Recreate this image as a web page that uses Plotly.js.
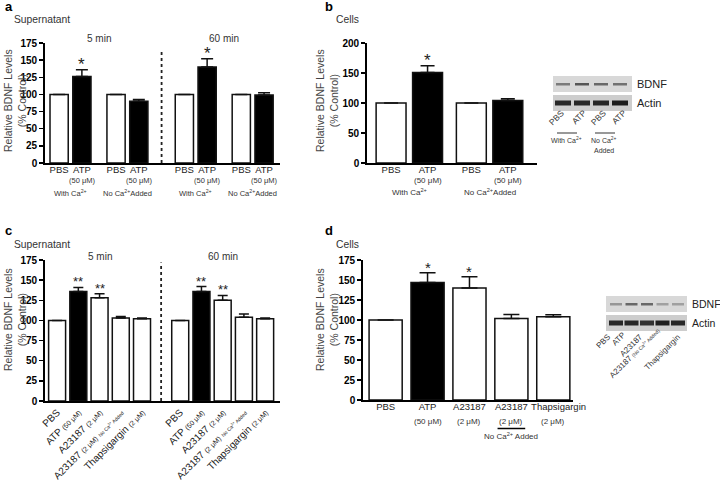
<!DOCTYPE html>
<html>
<head>
<meta charset="utf-8">
<script src="https://cdn.plot.ly/plotly-3.0.1.min.js"></script>
<style>html,body{margin:0;padding:0;background:#fff}</style>
</head>
<body>
<div id="fig" style="width:720px;height:481px"></div>
<script>
// ---- data ----
// panel a: supernatant, 5 min | 60 min
const aLabels = ["PBS", "ATP", "PBS", "ATP", "PBS", "ATP", "PBS", "ATP"];
const aValues = [100, 126, 100, 90, 100, 140, 100, 99];
const aErrors = [0, 10, 0, 2.5, 0, 12, 0, 3.5];
const aFilled = [false, true, false, true, false, true, false, true];
const aStars = ["", "*", "", "", "", "*", "", ""];

// panel b: cells
const bLabels = ["PBS", "ATP", "PBS", "ATP"];
const bValues = [100, 151, 100, 104];
const bErrors = [0, 11, 0, 3];
const bFilled = [false, true, false, true];
const bStars = ["", "*", "", ""];

// panel c: supernatant, 5 min | 60 min
const cLabels = ["PBS", "ATP", "A23187", "A23187", "Thapsigargin"];
const cDoses = ["", "(50 μM)", "(2 μM)", "(2 μM)", "(2 μM)"];
const cNotes = ["", "", "", "No Ca<sup>2+</sup> Added", ""];
const cValues5 = [100, 136, 128, 103, 102];
const cErrors5 = [0, 5, 5, 2, 1];
const cValues60 = [100, 136, 125, 104, 102];
const cErrors60 = [0, 6, 6, 4, 1];
const cFilled = [false, true, false, false, false];
const cStars = ["", "**", "**", "", ""];

// panel d: cells
const dLabels = ["PBS", "ATP", "A23187", "A23187", "Thapsigargin"];
const dDoses = ["", "(50 μM)", "(2 μM)", "(2 μM)", "(2 μM)"];
const dValues = [100, 147, 140, 102, 104];
const dErrors = [0, 12, 14, 5, 2.5];
const dFilled = [false, true, false, false, false];
const dStars = ["", "*", "*", "", ""];

// western blots: relative band darkness per lane
const bBlotLanes = ["PBS", "ATP", "PBS", "ATP"];
const bBdnf = [0.5, 0.7, 0.6, 0.55];
const bActin = [0.95, 0.95, 0.95, 1.0];
const dBlotLanes = ["PBS", "ATP", "A23187", "A23187 <span style='font-size:5px'>(No Ca<sup>2+</sup> Added)</span>", "Thapsigargin"];
const dBdnf = [0.35, 0.6, 0.6, 0.3, 0.3];
const dActin = [0.95, 0.95, 0.9, 1.0, 0.95];

// ---- helpers ----
const FONT = "Arial, 'Liberation Sans', sans-serif";
const W = 720, H = 481;
const px = x => x / W;
const py = y => 1 - y / H;

// slot positions: groups of bars with extra space between groups
function place(sizes, gaps) {
  let out = [], pos = 0;
  sizes.forEach((n, g) => {
    for (let i = 0; i < n; i++) out.push(pos++);
    pos += gaps[g] || 0;
  });
  return out;
}

function bars(ax, slots, values, errors, filled, width, cap) {
  return {
    type: "bar", x: slots, y: values, width: width,
    xaxis: "x" + ax, yaxis: "y" + ax,
    marker: { color: filled.map(f => f ? "#000" : "#fff"), line: { color: "#111", width: 1.5 } },
    error_y: {
      type: "data", symmetric: false, array: errors, arrayminus: errors.map(() => 0),
      color: "#111", thickness: 1.5, width: cap, visible: true
    },
    hoverinfo: "skip", showlegend: false
  };
}

function xax(dom, range, slots, text, extra) {
  return Object.assign({
    domain: dom, range: range, showline: true, linecolor: "#000", linewidth: 1.8,
    ticks: "", tickvals: slots, ticktext: text, showgrid: false, zeroline: false,
    tickangle: 0, ticklabelstandoff: -3,
    tickfont: { family: FONT, size: 9.5, color: "#222" }, fixedrange: true
  }, extra || {});
}

function yax(dom, range, dtick, anchor) {
  return {
    domain: dom, range: range, dtick: dtick, anchor: anchor, showline: true,
    linecolor: "#000", linewidth: 1.8, ticks: "outside", ticklen: 4, tickwidth: 1.5,
    tickcolor: "#000", showgrid: false, zeroline: false,
    tickfont: { family: FONT, size: 10, color: "#000", weight: 700 }, fixedrange: true
  };
}

const ann = [];
const shapes = [];
function text(t, x, y, size, opts) {
  ann.push(Object.assign({
    text: t, x: x, y: y, xref: "paper", yref: "paper", showarrow: false,
    font: { family: FONT, size: size, color: "#333" }, xanchor: "center", yanchor: "middle"
  }, opts || {}));
}
function stars(ax, slots, values, errors, marks, size, shift) {
  marks.forEach((m, i) => {
    if (!m) return;
    ann.push({
      text: m, x: slots[i], y: values[i] + errors[i], xref: "x" + ax, yref: "y" + ax,
      showarrow: false, yanchor: "bottom", yshift: shift,
      font: { family: FONT, size: size, color: "#222" }
    });
  });
}

// ---- slot layouts ----
const aSlots = place([2, 2, 2, 2], [0.5, 1.0, 0.5]);
const bSlots = place([2, 2], [0.2]);
const cSlots = place([5, 5], [0.8]);
const dSlots = place([5], []);
const cAll = cLabels.concat(cLabels);
const cTick = cAll.map((l, i) => {
  const k = i % 5;
  let s = l;
  if (cDoses[k]) s += " <span style='font-size:7px'>" + cDoses[k] + "</span>";
  if (cNotes[k]) s += " <span style='font-size:5px'>" + cNotes[k] + "</span>";
  return s;
});
// last label in d sits a little right of its bar in the original
const dTick = dLabels.map((l, i) => i === dLabels.length - 1 ? "&nbsp;&nbsp;&nbsp;&nbsp;" + l : l);

const data = [
  bars("", aSlots, aValues, aErrors, aFilled, 0.8, 6),
  bars("2", bSlots, bValues, bErrors, bFilled, 0.82, 7),
  bars("3", cSlots, cValues5.concat(cValues60), cErrors5.concat(cErrors60), cFilled.concat(cFilled), 0.8, 5),
  bars("4", dSlots, dValues, dErrors, dFilled, 0.79, 8)
];

stars("", aSlots, aValues, aErrors, aStars, 17, -6);
stars("2", bSlots, bValues, bErrors, bStars, 17, -6);
stars("3", cSlots, cValues5.concat(cValues60), cErrors5.concat(cErrors60), cStars.concat(cStars), 13, -4);
stars("4", dSlots, dValues, dErrors, dStars, 15, -5);

// dashed separators
shapes.push({ type: "line", xref: "x", yref: "y", x0: 4.5, x1: 4.5, y0: 0, y1: 165,
  line: { color: "#222", width: 1.8, dash: "dot" } });
shapes.push({ type: "line", xref: "x3", yref: "y3", x0: 4.9, x1: 4.9, y0: 0, y1: 172,
  line: { color: "#222", width: 1.8, dash: "dot" } });

// panel headers
const bold = { family: FONT, size: 13, color: "#000" };
text("<b>a</b>", px(3), py(6), 13, { xanchor: "left", font: bold });
text("Supernatant", px(12), py(19), 10.3, { xanchor: "left" });
text("<b>b</b>", px(323), py(6), 13, { xanchor: "left", font: bold });
text("Cells", px(334), py(19), 10.3, { xanchor: "left" });
text("<b>c</b>", px(3), py(230), 13, { xanchor: "left", font: bold });
text("Supernatant", px(12), py(244), 10.3, { xanchor: "left" });
text("<b>d</b>", px(323), py(230), 13, { xanchor: "left", font: bold });
text("Cells", px(334), py(244), 10.3, { xanchor: "left" });

// y titles
const yTitle = "Relative BDNF Levels<br>(% Control)";
const titleFont = { family: FONT, size: 10.5, color: "#444" };
text(yTitle, px(15), py(101), 10.5, { textangle: -90, font: titleFont });
text(yTitle, px(327), py(101), 10.5, { textangle: -90, font: titleFont });
text(yTitle, px(15), py(320), 10.5, { textangle: -90, font: titleFont });
text(yTitle, px(327), py(320), 10.5, { textangle: -90, font: titleFont });

// time labels
function dataText(t, ax, x, ypx, size, opts) {
  ann.push(Object.assign({
    text: t, x: x, y: py(ypx), xref: ax, yref: "paper", showarrow: false,
    font: { family: FONT, size: size, color: "#333" }, xanchor: "center", yanchor: "middle"
  }, opts || {}));
}
dataText("5 min", "x", (aSlots[0] + aSlots[3]) / 2, 38, 10);
dataText("60 min", "x", (aSlots[4] + aSlots[7]) / 2, 38, 10);
dataText("5 min", "x3", cSlots[2], 256, 10);
dataText("60 min", "x3", cSlots[7], 256, 10);

// panel a sub labels
aLabels.forEach((l, i) => { if (aFilled[i]) dataText("(50 μM)", "x", aSlots[i], 180, 7.5); });
[0, 2, 4, 6].forEach((g, k) => {
  const t = k % 2 === 0 ? "With Ca<sup>2+</sup>" : "No Ca<sup>2+</sup>Added";
  dataText(t, "x", (aSlots[g] + aSlots[g + 1]) / 2, 193, 7.5);
});
// panel b sub labels
bLabels.forEach((l, i) => { if (bFilled[i]) dataText("(50 μM)", "x2", bSlots[i], 180, 8); });
dataText("With Ca<sup>2+</sup>", "x2", (bSlots[0] + bSlots[1]) / 2, 192, 8);
dataText("No Ca<sup>2+</sup>Added", "x2", (bSlots[2] + bSlots[3]) / 2, 192, 8);
// panel d sub labels
dDoses.forEach((t, i) => { if (t) dataText(t, "x4", dSlots[i], 421, 8); });
dataText("No Ca<sup>2+</sup> Added", "x4", dSlots[3], 436, 8);
shapes.push({ type: "line", xref: "x4", yref: "paper", x0: dSlots[3] - 0.33, x1: dSlots[3] + 0.33,
  y0: py(428.5), y1: py(428.5), line: { color: "#000", width: 1.5 } });

// ---- western blots ----
function blot(x0, x1, yB, yA, bdnf, actin, laneStart, laneStep, bandW, labelSize) {
  const gray = v => { const c = Math.round(215 - 185 * v); return `rgb(${c},${c},${c})`; };
  shapes.push({ type: "rect", xref: "paper", yref: "paper", x0: px(x0), x1: px(x1),
    y0: py(yB + 16), y1: py(yB), fillcolor: "#d8d8d8", line: { width: 0 }, layer: "below" });
  shapes.push({ type: "rect", xref: "paper", yref: "paper", x0: px(x0), x1: px(x1),
    y0: py(yA + 16), y1: py(yA), fillcolor: "#cdcdcd", line: { width: 0 }, layer: "below" });
  bdnf.forEach((v, i) => {
    const c = laneStart + laneStep * i;
    shapes.push({ type: "rect", xref: "paper", yref: "paper", x0: px(c - bandW / 2), x1: px(c + bandW / 2),
      y0: py(yB + 9.5), y1: py(yB + 7), fillcolor: gray(v), line: { width: 0 } });
  });
  actin.forEach((v, i) => {
    const c = laneStart + laneStep * i;
    shapes.push({ type: "rect", xref: "paper", yref: "paper", x0: px(c - bandW / 2 - 1), x1: px(c + bandW / 2 + 1),
      y0: py(yA + 10.5), y1: py(yA + 5.5), fillcolor: gray(v), line: { width: 0 } });
  });
  const lf = { family: FONT, size: labelSize, color: "#222" };
  text("BDNF", px(x1 + 3), py(yB + 8), labelSize, { xanchor: "left", font: lf });
  text("Actin", px(x1 + 3), py(yA + 8), labelSize, { xanchor: "left", font: lf });
}
blot(553, 632, 76, 95, bBdnf, bActin, 563, 19, 14, 11);
blot(606, 687, 296, 315, dBdnf, dActin, 616, 15.5, 12, 10.5);

// blot lane labels (rotated)
const bLaneCenters = [[556, 118], [579, 117], [598, 118], [619, 117]];
bBlotLanes.forEach((l, i) => text(l, px(bLaneCenters[i][0]), py(bLaneCenters[i][1]), 8.5, { textangle: -45 }));
shapes.push({ type: "line", xref: "paper", yref: "paper", x0: px(557), x1: px(577), y0: py(133), y1: py(133), line: { color: "#555", width: 1.2 } });
shapes.push({ type: "line", xref: "paper", yref: "paper", x0: px(595), x1: px(615), y0: py(133), y1: py(133), line: { color: "#555", width: 1.2 } });
text("With Ca<sup>2+</sup>", px(566), py(140), 7);
text("No Ca<sup>2+</sup>", px(604), py(140), 7);
text("Added", px(604), py(150), 7);

const dLaneCenters = [[603, 341], [618, 339], [631, 345], [634, 353], [662, 352]];
dBlotLanes.forEach((l, i) => text(l, px(dLaneCenters[i][0]), py(dLaneCenters[i][1]), 8, { textangle: -45 }));

const layout = {
  width: W, height: H, margin: { l: 0, r: 0, t: 0, b: 0 },
  paper_bgcolor: "#fff", plot_bgcolor: "rgba(0,0,0,0)",
  showlegend: false, bargap: 0, hovermode: false,
  font: { family: FONT, color: "#222" },
  xaxis: xax([px(45), px(280)], [-0.62, 9.7], aSlots, aLabels, { anchor: "y" }),
  yaxis: yax([py(163), py(43)], [0, 175], 25, "x"),
  xaxis2: xax([px(367), px(537)], [-0.66, 4.0], bSlots, bLabels, { anchor: "y2" }),
  yaxis2: yax([py(163), py(43)], [0, 200], 50, "x2"),
  xaxis3: xax([px(45), px(280)], [-0.57, 10.5], cSlots, cTick, { anchor: "y3", tickangle: -45, ticklabelstandoff: 0, tickfont: { family: FONT, size: 10, color: "#222" } }),
  yaxis3: yax([py(401), py(260)], [0, 175], 25, "x3"),
  xaxis4: xax([px(363), px(573)], [-0.54, 4.47], dSlots, dTick, { anchor: "y4" }),
  yaxis4: yax([py(400), py(260)], [0, 175], 25, "x4"),
  annotations: ann,
  shapes: shapes
};

Plotly.newPlot("fig", data, layout, { staticPlot: true, displayModeBar: false });
</script>
</body>
</html>
